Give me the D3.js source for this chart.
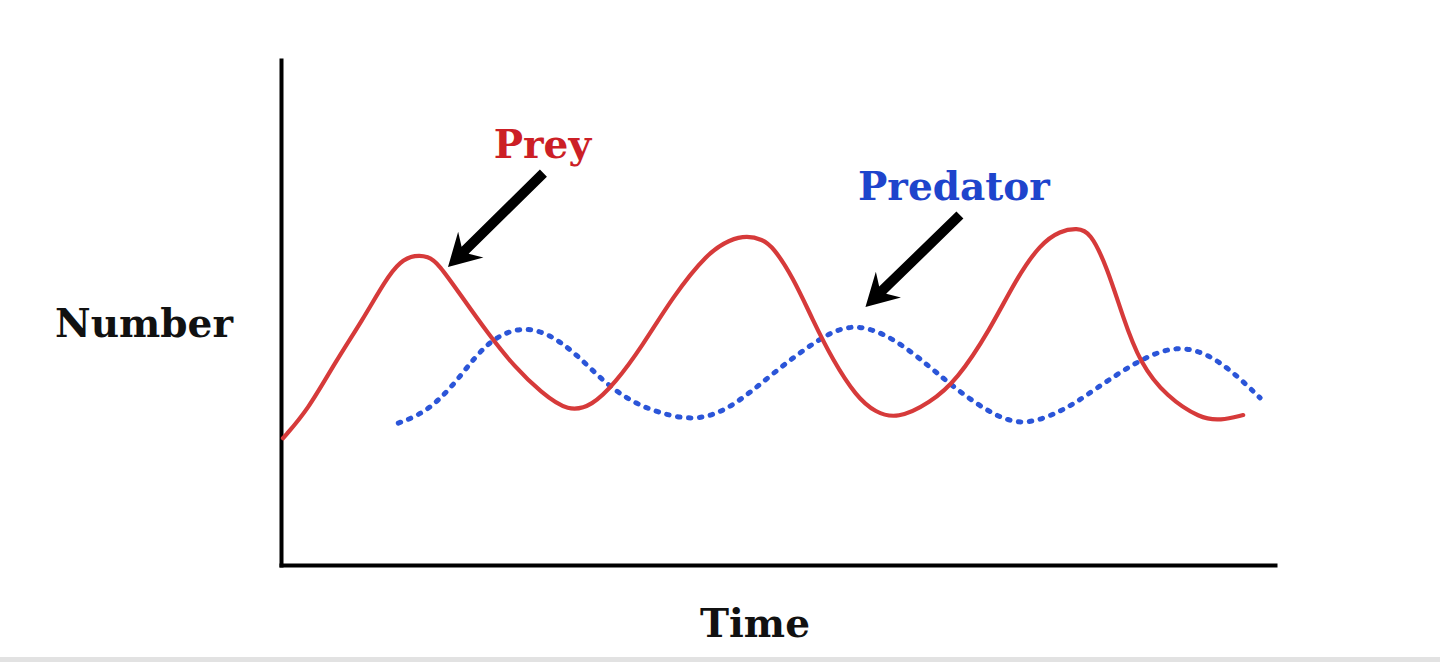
<!DOCTYPE html>
<html><head><meta charset="utf-8">
<script src="https://cdn.jsdelivr.net/npm/d3@7"></script>
<style>html,body{margin:0;padding:0;background:#fff;overflow:hidden}</style>
</head><body>
<svg id="c" width="1440" height="662"></svg>
<script>
// Data (time 0-100, number 0-100)
const preyTime = [0.2,2.7,5.4,8.2,10.5,12.0,13.5,14.8,15.8,18.2,20.8,23.5,26.2,28.9,31.3,33.6,36.3,39.4,42.9,45.2,46.9,48.4,49.5,51.5,53.5,55.5,57.9,59.8,62.0,65.3,68.0,71.3,74.0,76.4,78.4,80.1,81.4,83.1,84.7,86.4,89.1,92.5,94.5,96.8];
const preyNumber = [25.1,30.7,40.0,48.5,56.4,60.2,61.4,61.1,59.8,53.1,45.9,39.2,34.1,30.3,31.5,36.0,43.2,53.1,61.8,64.5,65.2,64.5,63.0,57.0,48.5,40.6,33.3,30.2,28.9,32.1,36.6,46.5,56.8,63.6,66.2,66.7,66.0,59.0,49.1,40.0,33.3,29.0,28.6,29.7];
const predTime = [11.8,14.5,17.2,19.5,21.5,24.2,26.9,29.6,32.3,34.9,37.9,41.9,45.5,49.5,53.9,57.5,61.6,65.3,68.0,71.3,74.6,78.4,80.7,85.7,90.1,94.2,98.5];
const predNumber = [28.1,30.1,35.2,41.2,45.1,47.2,45.9,42.0,36.6,32.7,30.1,28.4,31.3,38.0,44.6,48.2,45.1,39.2,34.7,30.1,27.4,30.3,33.1,40.0,43.9,41.2,33.1];
const labels = ["Prey","Predator"];
const arrowFrom = [[26.4,77.6],[68.3,69.3]];
const arrowTo = [[16.8,59.0],[58.8,51.1]];
const labelPos = [[26.3,80.6],[67.7,72.3]];
const xTitle = "Time", yTitle = "Number";

const svg = d3.select("#c");
const x = d3.scaleLinear().domain([0,100]).range([281,1275]);
const y = d3.scaleLinear().domain([0,100]).range([565,60]);

// bottom gray band
svg.append("rect").attr("x",0).attr("y",657).attr("width",1440).attr("height",5).attr("fill","#e2e2e2");

// axes
const ax = svg.append("g").attr("transform","translate(0,565)")
  .call(d3.axisBottom(x).ticks(0).tickSizeOuter(0));
const ay = svg.append("g").attr("transform","translate(281,0)")
  .call(d3.axisLeft(y).ticks(0).tickSizeOuter(0));
[ax,ay].forEach(g=>g.select(".domain").attr("stroke","#000").attr("stroke-width",4).attr("stroke-linecap","square"));

const line = d3.line().x(d=>x(d[0])).y(d=>y(d[1])).curve(d3.curveBasis);
const prey = preyTime.map((t,i)=>[t,preyNumber[i]]);
const pred = predTime.map((t,i)=>[t,predNumber[i]]);

svg.append("path").datum(pred).attr("d",line).attr("fill","none")
  .attr("stroke","#2b55d8").attr("stroke-width",5).attr("stroke-linecap","round")
  .attr("stroke-dasharray","2.5 8.5");
svg.append("path").datum(prey).attr("d",line).attr("fill","none")
  .attr("stroke","#d63a3a").attr("stroke-width",4.2).attr("stroke-linecap","round");

// arrows
arrowFrom.forEach((f,i)=>{
  const x0=x(f[0]), y0=y(f[1]), x1=x(arrowTo[i][0]), y1=y(arrowTo[i][1]);
  const ang = Math.atan2(y1-y0,x1-x0)*180/Math.PI;
  const L = Math.hypot(x1-x0,y1-y0);
  const g = svg.append("g").attr("transform",`translate(${x0},${y0}) rotate(${ang})`);
  const hl=32, hw=18, sw=5;
  g.append("path").attr("fill","#000")
    .attr("d",`M0,${-sw} L${L-hl+8},${-sw} L${L-hl},${-hw} L${L},0 L${L-hl},${hw} L${L-hl+8},${sw} L0,${sw} Z`);
});

// labels
const colors=["#cc1f26","#1e44cc"];
labels.forEach((t,i)=>{
  svg.append("text").attr("x",x(labelPos[i][0])).attr("y",y(labelPos[i][1]))
    .attr("text-anchor","middle").attr("font-family","DejaVu Serif").attr("font-weight","bold")
    .attr("font-size",39).attr("fill",colors[i]).text(t);
});
svg.append("text").attr("x",144).attr("y",337).attr("text-anchor","middle")
  .attr("font-family","DejaVu Serif").attr("font-weight","bold").attr("font-size",39).attr("fill","#111").text(yTitle);
svg.append("text").attr("x",755).attr("y",637).attr("text-anchor","middle")
  .attr("font-family","DejaVu Serif").attr("font-weight","bold").attr("font-size",39).attr("fill","#111").text(xTitle);
</script>
</body></html>
